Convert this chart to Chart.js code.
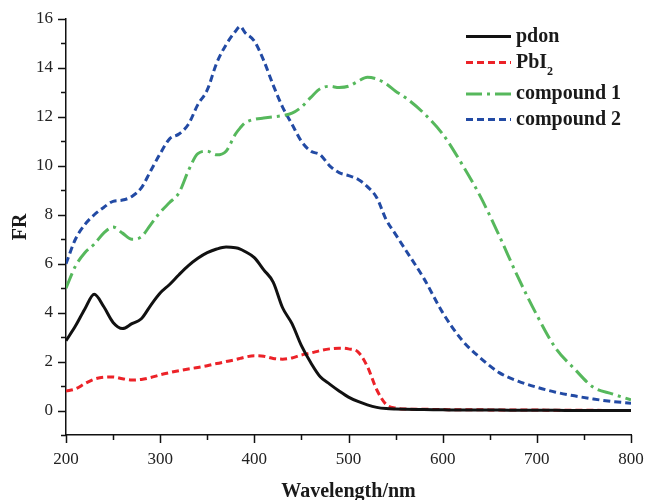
<!DOCTYPE html>
<html>
<head>
<meta charset="utf-8">
<script src="https://cdn.jsdelivr.net/npm/chart.js@4.4.0/dist/chart.umd.min.js"></script>
<style>
  html, body { margin: 0; padding: 0; background: #fff; }
  #wrap { width: 646px; height: 500px; }
</style>
</head>
<body>
<div id="wrap"><canvas id="fr"></canvas></div>
<script>
// wavelength grid (nm)
var wavelength = [200,210,220,230,240,250,260,270,280,290,300,310,320,330,340,350,360,370,380,385,390,400,410,420,430,440,450,460,470,480,490,500,510,520,530,540,550,560,580,600,620,640,660,680,700,720,740,760,780,800];

var pdon = [2.85,3.45,4.15,4.75,4.25,3.6,3.35,3.55,3.75,4.3,4.8,5.15,5.55,5.92,6.22,6.45,6.6,6.68,6.65,6.6,6.5,6.25,5.75,5.25,4.2,3.55,2.65,1.95,1.38,1.08,0.8,0.55,0.37,0.23,0.13,0.08,0.06,0.05,0.04,0.03,0.02,0.02,0.02,0.01,0.01,0.01,0.0,0.0,0.0,0.0];
var pbi2 = [0.8,0.88,1.1,1.28,1.36,1.37,1.3,1.25,1.27,1.35,1.46,1.55,1.63,1.7,1.76,1.83,1.92,2.0,2.08,2.13,2.18,2.24,2.22,2.13,2.1,2.15,2.27,2.35,2.45,2.52,2.55,2.52,2.4,1.8,0.85,0.25,0.1,0.06,0.05,0.04,0.03,0.03,0.02,0.02,0.02,0.01,0.01,0.01,0.0,0.0];
var compound1 = [5.0,5.9,6.45,6.8,7.25,7.5,7.25,7.0,7.1,7.6,8.1,8.5,8.9,9.8,10.5,10.6,10.45,10.6,11.3,11.55,11.75,11.9,11.95,12.0,12.05,12.15,12.4,12.8,13.15,13.25,13.2,13.25,13.45,13.62,13.55,13.35,13.05,12.8,12.15,11.3,10.1,8.75,7.15,5.45,3.9,2.55,1.7,0.95,0.68,0.44];
var compound2 = [6.0,7.0,7.6,8.0,8.3,8.55,8.6,8.75,9.1,9.8,10.5,11.1,11.3,11.7,12.5,13.1,14.2,14.95,15.5,15.7,15.45,15.1,14.3,13.3,12.4,11.7,11.0,10.6,10.45,10.0,9.72,9.6,9.45,9.15,8.7,7.8,7.2,6.6,5.4,4.0,2.9,2.15,1.55,1.2,0.95,0.75,0.6,0.47,0.37,0.3];

var seriesNames = ['pdon', 'PbI2', 'compound 1', 'compound 2'];
var xTicks = [200, 300, 400, 500, 600, 700, 800];
var yTicks = [0, 2, 4, 6, 8, 10, 12, 14, 16];

function pts(ys) {
  return wavelength.map(function (x, i) { return { x: x, y: ys[i] }; });
}

var serif = '"Liberation Serif", "Times New Roman", serif';

// small outward ticks, long on labelled values, short between
var axisTicks = {
  id: 'axisTicks',
  afterDraw: function (chart) {
    var c = chart.ctx, a = chart.chartArea;
    var xs = chart.scales.x, ys = chart.scales.y;
    c.save();
    c.strokeStyle = '#111';
    c.lineWidth = 1.5;
    c.beginPath();
    xs.ticks.forEach(function (t) {
      var px = Math.round(xs.getPixelForValue(t.value)) + 0.5;
      var len = xTicks.indexOf(t.value) >= 0 ? 8 : 5;
      c.moveTo(px, a.bottom); c.lineTo(px, a.bottom + len);
    });
    ys.ticks.forEach(function (t) {
      var py = Math.round(ys.getPixelForValue(t.value)) + 0.5;
      var len = yTicks.indexOf(t.value) >= 0 ? 8 : 5;
      c.moveTo(a.left, py); c.lineTo(a.left - len, py);
    });
    c.stroke();
    c.restore();
  }
};

// legend drawn by hand so the line styles and the subscript match
var legendBox = {
  id: 'legendBox',
  afterDraw: function (chart) {
    var c = chart.ctx;
    var rows = [36.5, 62.5, 94, 119.5];
    c.save();
    chart.data.datasets.forEach(function (ds, i) {
      var y = rows[i];
      c.strokeStyle = ds.borderColor;
      c.lineWidth = ds.borderWidth;
      c.setLineDash(ds.borderDash || []);
      c.beginPath();
      c.moveTo(466, y); c.lineTo(511, y);
      c.stroke();
      c.setLineDash([]);
      c.fillStyle = '#1a1a1a';
      c.textBaseline = 'middle';
      c.font = 'bold 20px ' + serif;
      var name = seriesNames[i];
      if (name === 'PbI2') {
        c.fillText('PbI', 516, y);
        var w = c.measureText('PbI').width;
        c.font = 'bold 12px ' + serif;
        c.fillText('2', 516 + w, y + 9);
      } else {
        c.fillText(name, 516, y);
      }
    });
    c.restore();
  }
};

var ctx = document.getElementById('fr').getContext('2d');
var chart = new Chart(ctx, {
  type: 'line',
  data: {
    datasets: [{
      label: seriesNames[0],
      data: pts(pdon),
      borderColor: '#111111',
      borderWidth: 3
    }, {
      label: seriesNames[1],
      data: pts(pbi2),
      borderColor: 'rgb(236,34,40)',
      borderWidth: 3,
      borderDash: [7, 4]
    }, {
      label: seriesNames[2],
      data: pts(compound1),
      borderColor: 'rgb(86,184,92)',
      borderWidth: 3,
      borderDash: [16, 5, 3, 5]
    }, {
      label: seriesNames[3],
      data: pts(compound2),
      borderColor: 'rgb(34,74,164)',
      borderWidth: 3,
      borderDash: [7, 4]
    }]
  },
  options: {
    responsive: true,
    maintainAspectRatio: false,
    animation: false,
    cubicInterpolationMode: 'monotone',
    elements: { point: { radius: 0 }, line: { fill: false } },
    layout: { padding: { top: 19, right: 15, left: 0, bottom: 0 } },
    plugins: {
      legend: { display: false },
      tooltip: { enabled: false }
    },
    scales: {
      x: {
        type: 'linear',
        min: 200,
        max: 800,
        afterFit: function (s) { s.height = 65; s.paddingRight = 0; s.paddingLeft = 0; },
        grid: { display: false },
        border: { display: true, color: '#111', width: 1.5 },
        ticks: {
          stepSize: 50,
          padding: 6,
          color: '#222',
          font: { family: serif, size: 17 },
          maxRotation: 0,
          autoSkip: false,
          callback: function (v) { return xTicks.indexOf(v) >= 0 ? String(v) : ''; }
        },
        title: {
          display: true,
          text: 'Wavelength/nm',
          color: '#1a1a1a',
          font: { family: serif, size: 20, weight: 'bold' },
          padding: { top: 16, bottom: -4 }
        }
      },
      y: {
        min: -1,
        max: 16,
        afterFit: function (s) { s.width = 66; s.paddingTop = 0; s.paddingBottom = 0; },
        grid: { display: false },
        border: { display: true, color: '#111', width: 1.5 },
        ticks: {
          stepSize: 1,
          padding: 5,
          color: '#222',
          font: { family: serif, size: 17 },
          autoSkip: false,
          callback: function (v) { return yTicks.indexOf(v) >= 0 ? String(v) : ''; }
        },
        title: {
          display: true,
          text: 'FR',
          color: '#1a1a1a',
          font: { family: serif, size: 20, weight: 'bold' },
          padding: { top: 9, bottom: 4 }
        }
      }
    }
  },
  plugins: [axisTicks, legendBox]
});
</script>
</body>
</html>
